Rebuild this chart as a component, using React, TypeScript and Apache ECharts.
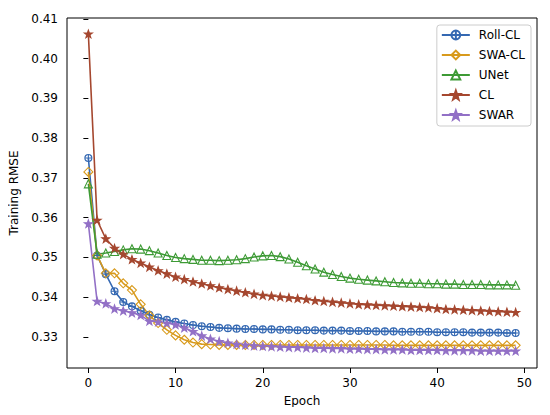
import { useEffect, useRef } from "react";
import * as echarts from "echarts";

const FONT = "DejaVu Sans";

// Training RMSE per epoch (epochs 0..49)
const rollCL = [
  0.3750, 0.3505, 0.3458, 0.3415, 0.3388, 0.3377, 0.3366, 0.3356, 0.3349, 0.3343,
  0.3338, 0.3334, 0.3330, 0.3327, 0.3325, 0.3323, 0.3322, 0.3321, 0.3320, 0.3320,
  0.3319, 0.3319, 0.3318, 0.3318, 0.3317, 0.3317, 0.3317, 0.3316, 0.3316, 0.3316,
  0.3315, 0.3315, 0.3315, 0.3314, 0.3314, 0.3314, 0.3313, 0.3313, 0.3313, 0.3313,
  0.3312, 0.3312, 0.3312, 0.3312, 0.3311, 0.3311, 0.3311, 0.3311, 0.3310, 0.3310,
];
const swaCL = [
  0.3715, 0.3505, 0.3460, 0.3460, 0.3435, 0.3418, 0.3382, 0.3354, 0.3335, 0.3318,
  0.3304, 0.3293, 0.3286, 0.3282, 0.3281, 0.3280, 0.3280, 0.3280, 0.3280, 0.3280,
  0.3280, 0.3280, 0.3280, 0.3280, 0.3280, 0.3280, 0.3280, 0.3280, 0.3280, 0.3280,
  0.3280, 0.3280, 0.3280, 0.3280, 0.3280, 0.3279, 0.3279, 0.3279, 0.3279, 0.3279,
  0.3279, 0.3279, 0.3279, 0.3279, 0.3279, 0.3279, 0.3279, 0.3279, 0.3279, 0.3279,
];
const unet = [
  0.3685, 0.3508, 0.3511, 0.3515, 0.3519, 0.3522, 0.3521, 0.3517, 0.3511, 0.3505,
  0.3500, 0.3497, 0.3495, 0.3493, 0.3493, 0.3492, 0.3493, 0.3494, 0.3497, 0.3501,
  0.3504, 0.3505, 0.3502, 0.3496, 0.3488, 0.3479, 0.3471, 0.3463, 0.3457, 0.3452,
  0.3448, 0.3445, 0.3443, 0.3441, 0.3439, 0.3437, 0.3436, 0.3435, 0.3435, 0.3434,
  0.3434, 0.3433, 0.3433, 0.3432, 0.3432, 0.3432, 0.3431, 0.3431, 0.3431, 0.3430,
];
const cl = [
  0.4062, 0.3594, 0.3547, 0.3523, 0.3508, 0.3495, 0.3486, 0.3476, 0.3467, 0.3459,
  0.3451, 0.3445, 0.3439, 0.3434, 0.3429, 0.3424, 0.3420, 0.3416, 0.3412, 0.3408,
  0.3405, 0.3403, 0.3401, 0.3399, 0.3397, 0.3395, 0.3392, 0.3390, 0.3388, 0.3386,
  0.3384, 0.3382, 0.3381, 0.3380, 0.3379, 0.3378, 0.3377, 0.3376, 0.3375, 0.3374,
  0.3372, 0.3370, 0.3369, 0.3368, 0.3367, 0.3366, 0.3365, 0.3364, 0.3363, 0.3362,
];
const swar = [
  0.3585, 0.3390, 0.3384, 0.3371, 0.3366, 0.3361, 0.3355, 0.3340, 0.3338, 0.3335,
  0.3331, 0.3323, 0.3314, 0.3303, 0.3295, 0.3289, 0.3285, 0.3282, 0.3280, 0.3278,
  0.3277, 0.3276, 0.3275, 0.3274, 0.3274, 0.3273, 0.3272, 0.3272, 0.3271, 0.3271,
  0.3270, 0.3270, 0.3269, 0.3269, 0.3268, 0.3268, 0.3268, 0.3267, 0.3267, 0.3267,
  0.3267, 0.3266, 0.3266, 0.3266, 0.3266, 0.3265, 0.3265, 0.3265, 0.3265, 0.3265,
];

const xTicks = [0, 10, 20, 30, 40, 50];
const yTicks = [0.33, 0.34, 0.35, 0.36, 0.37, 0.38, 0.39, 0.4, 0.41];

const STAR =
  "path://M0,-10L2.35,-3.24L9.51,-3.09L3.8,1.24L5.88,8.09L0,4L-5.88,8.09L-3.8,1.24L-9.51,-3.09L-2.35,-3.24Z";
const OPLUS =
  "path://M10,0A10,10,0,1,1,10,20A10,10,0,1,1,10,0ZM0,10L20,10M10,0L10,20";

const SERIES = [
  { name: "Roll-CL", data: rollCL, color: "#3468b2", symbol: OPLUS, size: 7, hollow: true },
  { name: "SWA-CL", data: swaCL, color: "#d89a1c", symbol: "diamond", size: 9, hollow: true },
  { name: "UNet", data: unet, color: "#3d9a35", symbol: "triangle", size: 8, hollow: true },
  { name: "CL", data: cl, color: "#a5472f", symbol: STAR, size: 8, hollow: false },
  { name: "SWAR", data: swar, color: "#9270c6", symbol: STAR, size: 8, hollow: false },
];

function buildOption() {
  return {
    animation: false,
    textStyle: { fontFamily: FONT },
    grid: {
      left: 67,
      right: 13,
      top: 18,
      bottom: 47,
      show: true,
      borderColor: "#000",
      borderWidth: 1,
      backgroundColor: "transparent",
    },
    xAxis: {
      type: "value",
      min: -2.45,
      max: 51.45,
      name: "Epoch",
      nameLocation: "middle",
      nameGap: 27,
      nameTextStyle: { color: "#000", fontSize: 12, fontFamily: FONT },
      axisLine: { show: false },
      splitLine: { show: false },
      axisTick: {
        show: true,
        inside: false,
        length: 5,
        customValues: xTicks,
        lineStyle: { color: "#000", width: 1 },
      },
      axisLabel: {
        customValues: xTicks,
        color: "#000",
        fontSize: 12,
        fontFamily: FONT,
        margin: 9,
      },
    },
    yAxis: {
      type: "value",
      min: 0.3222,
      max: 0.4102,
      name: "Training RMSE",
      nameLocation: "middle",
      nameGap: 47,
      nameTextStyle: { color: "#000", fontSize: 12, fontFamily: FONT },
      axisLine: { show: false },
      splitLine: { show: false },
      axisTick: {
        show: true,
        inside: false,
        length: 5,
        customValues: yTicks,
        lineStyle: { color: "#000", width: 1 },
      },
      axisLabel: {
        customValues: yTicks,
        color: "#000",
        fontSize: 12,
        fontFamily: FONT,
        margin: 9,
        formatter: (v: number) => v.toFixed(2),
      },
    },
    legend: {
      orient: "vertical",
      right: 19,
      top: 25,
      itemWidth: 28,
      itemHeight: 11,
      itemGap: 8,
      padding: [4, 6, 5, 4],
      borderColor: "#cccccc",
      borderWidth: 1,
      borderRadius: 3,
      backgroundColor: "rgba(255,255,255,0.8)",
      textStyle: { color: "#000", fontSize: 12, fontFamily: FONT, padding: [0, 0, 0, 4] },
      data: SERIES.map((s) => s.name),
    },
    series: SERIES.map((s) => ({
      type: "line",
      name: s.name,
      data: s.data.map((v, i) => [i, v]),
      symbol: s.symbol,
      symbolSize: s.size,
      symbolKeepAspect: true,
      showAllSymbol: true,
      lineStyle: { color: s.color, width: 1.6 },
      itemStyle: {
        color: s.hollow ? "rgba(0,0,0,0)" : s.color,
        borderColor: s.color,
        borderWidth: 1.1,
      },
      emphasis: { disabled: true },
    })),
  };
}

export default function App() {
  const ref = useRef<HTMLDivElement>(null);

  useEffect(() => {
    if (!ref.current) return;
    const chart = echarts.init(ref.current, undefined, { renderer: "svg" });
    chart.setOption(buildOption());
    return () => chart.dispose();
  }, []);

  return <div ref={ref} style={{ width: 550, height: 415, margin: -8 }} />;
}
